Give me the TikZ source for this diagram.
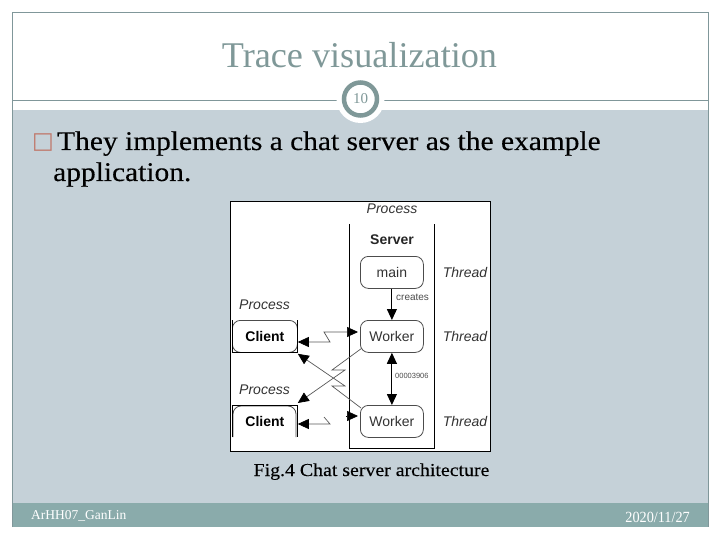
\documentclass[tikz,border=0pt]{standalone}
\usepackage{fontspec}
\setmainfont{Liberation Serif}
\setsansfont{Liberation Sans}
\newfontfamily\glyphfont{DejaVu Sans}
\newfontfamily\bodyfont[FakeStretch=1.09,FakeBold=0.25]{Liberation Serif}
\newfontfamily\footfont[FakeStretch=0.92]{Liberation Serif}
\usepackage{xcolor}
\usetikzlibrary{arrows.meta,calc}
\definecolor{framegray}{HTML}{80979A}
\definecolor{bandblue}{HTML}{C5D1D8}
\definecolor{footteal}{HTML}{8AABAB}
\definecolor{titlegray}{HTML}{7F9898}
\definecolor{bulletred}{HTML}{C0776A}
\newcommand{\fsz}[1]{\fontsize{#1}{#1}\selectfont}

\begin{document}
\begin{tikzpicture}[x=1pt,y=-1pt,
  thread/.style={draw=black!70, thick, rounded corners=8pt, minimum width=63pt,
    minimum height=32pt, inner sep=0pt, anchor=north west, font=\sffamily\fsz{14}, text=black!80},
  client/.style={thread, font=\sffamily\bfseries\fsz{14}, text=black, minimum width=65pt},
  tag/.style={font=\sffamily\itshape\fsz{14}, text=black!80},
  wee/.style={font=\sffamily\fsz{10}, text=black!70, anchor=west, inner sep=0pt},
  slide/.style={font=\bodyfont\fsz{27}, anchor=base west, text=black},
  link/.style={draw=black!65, line width=0.7pt, {Triangle[length=11pt,width=10pt,color=black]}-{Triangle[length=11pt,width=10pt,color=black]}},
  oneway/.style={draw=black!65, line width=0.7pt, {Triangle[length=11pt,width=10pt,color=black]}-},
  solid link/.style={draw=black, line width=1pt},
]
\useasboundingbox (0,0) rectangle (720,540);

% --- Slide frame ---
\fill[bandblue] (12,110) rectangle (708,503);
\fill[footteal] (12,503) rectangle (708,527);
\draw[framegray, line width=0.8pt] (12,527) -- (12,12.5) -- (708,12.5) -- (708,527);
\draw[framegray, line width=0.8pt] (12,100) -- (708,100);

% --- Title and page number ---
\node[font=\fsz{36.2}, text=titlegray, anchor=base] (title) at (359.5,68) {Trace visualization};
\node[circle, fill=white, minimum size=48pt, inner sep=0pt] (halo) at (360.5,99) {};
\node[circle, draw=titlegray, line width=4.5pt, minimum size=33pt, inner sep=0pt,
  font=\fsz{15}, text=titlegray] (pagenum) at (360.5,99) {10};

% --- Body text ---
\node[font=\glyphfont\fsz{23}, text=bulletred, anchor=base west, inner sep=0pt] (bullet) at (32,149) {□};
\node[slide, inner sep=0pt] (line1) at (57,150) {They implements a chat server as the example};
\node[slide, inner sep=0pt] (line2) at (53,181) {application.};

% --- Figure ---
\node[draw=black, fill=white, minimum width=260pt, minimum height=250pt, inner sep=0pt,
  anchor=north west] (figure) at (230,201) {};
\draw[black, line width=1pt] (349.5,224) -- (349.5,448) -- (434.5,448) -- (434.5,224);

\node[tag] (procS) at (392,209) {Process};
\node[font=\sffamily\bfseries\fsz{14}, text=black!85] (server) at (392,240) {Server};
\node[thread] (main) at (360,256) {main};
\node[thread] (worker1) at (360,320) {Worker};
\node[thread] (worker2) at (360,405) {Worker};
\node[tag] (thread0) at (465,272) {Thread};
\node[tag] (thread1) at (465,336) {Thread};
\node[tag] (thread2) at (465,421) {Thread};

\node[tag] (procA) at (264.5,305) {Process};
\node[client] (client1) at (232,320) {Client};
\node[tag] (procB) at (264.5,390) {Process};
\node[client, draw=none] (client2) at (232,405) {Client};
\draw[black!70, thick, rounded corners=8pt] (233,437) -- (233,406) -- (296,406) -- (296,437);
\draw[black, line width=0.8pt] (232,320) -- (232,352) -- (297,352) -- (297,320);
\draw[black, line width=0.8pt] (232,437) -- (232,405) -- (297,405) -- (297,437);

% --- Thread links ---
\draw[solid link, -{Triangle[length=11pt,width=10pt]}] (main.south) -- (worker1.north);
\draw[solid link, {Triangle[length=11pt,width=10pt]}-{Triangle[length=11pt,width=10pt]}] (worker1.south) -- (worker2.north);
\node[wee] (creates) at (396,297) {creates};
\node[wee, font=\sffamily\fsz{7.5}] (shared) at (395,376) {00003906};

% --- Socket links (broken lines) ---
\coordinate (zigA) at (330,342);
\coordinate (zagA) at (324,332);
\coordinate (zigD) at (330,424);
\coordinate (stub) at (346,416);
\draw[link] (client1.east |- zigA) -- (zigA) -- (zagA) -- ($(worker1.west |- zagA)+(-2,0)$);
\draw[oneway] ($(client2.north east)+(0,-2)$) -- (345,370) -- (332,370) -- ($(worker1.south west)+(1,-4)$);
\draw[oneway] ($(client1.south east)+(0,1)$) -- (345,386) -- (332,386) -- ($(worker2.north west)+(1,3)$);
\draw[oneway] (client2.east |- zigD) -- (zigD) -- (324,417);
\draw[black, line width=0.7pt, -{Triangle[length=11pt,width=10pt]}] (stub) -- ($(worker2.west |- stub)+(-2,0)$);

\node[font=\bodyfont\fsz{18.2}, text=black, anchor=base] (caption) at (371.5,476) {Fig.4 Chat server architecture};

% --- Footer ---
\node[font=\fsz{13.5}, text=white, anchor=base west, inner sep=0pt] (footL) at (31,519) {ArHH07\_GanLin};
\node[font=\footfont\fsz{15.5}, text=white, anchor=base east, inner sep=0pt] (footR) at (690,522) {2020/11/27};
\end{tikzpicture}
\end{document}
